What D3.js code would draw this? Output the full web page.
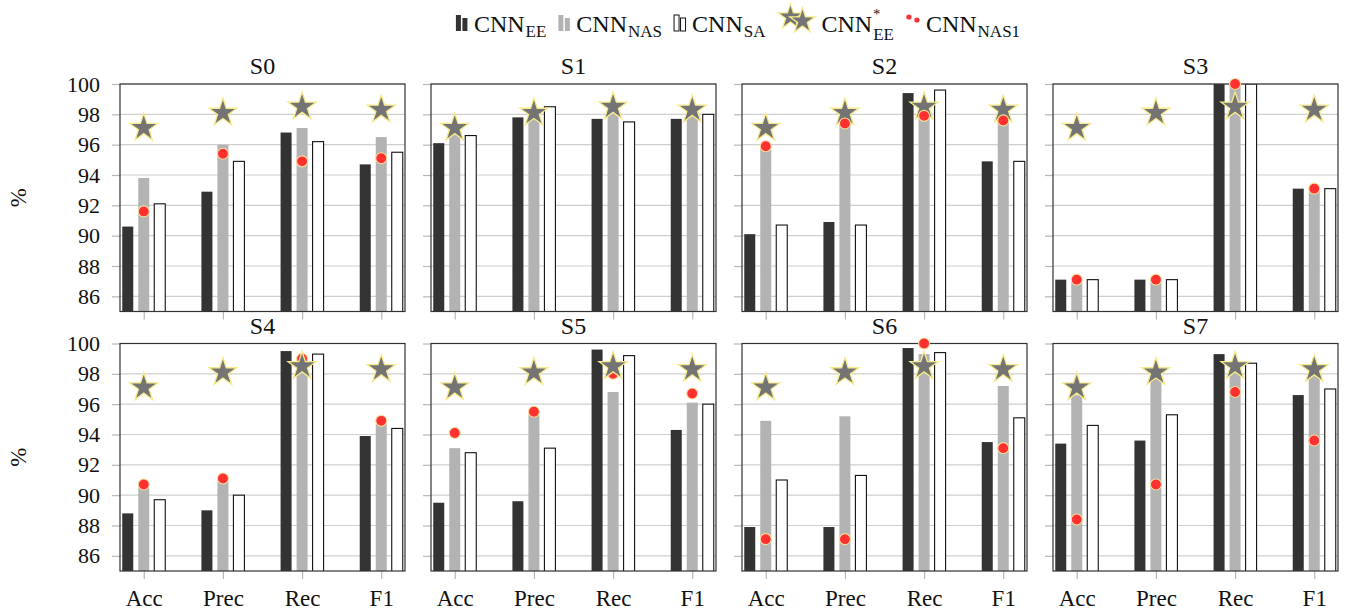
<!DOCTYPE html>
<html>
<head>
<meta charset="utf-8">
<script src="https://cdn.jsdelivr.net/npm/d3@7"></script>
<style>
  body { margin: 0; background: #fff; }
  svg { display: block; }
  svg text { font-family: "Liberation Serif", "Times New Roman", serif !important; }
</style>
</head>
<body>
<svg id="chart" width="1354" height="614"></svg>
<script>
// values
const metrics = ["Acc", "Prec", "Rec", "F1"];
const panelNames = ["S0", "S1", "S2", "S3", "S4", "S5", "S6", "S7"];
const yTicks = [86, 88, 90, 92, 94, 96, 98, 100];

const cnnEE = [
    [90.6, 92.9, 96.8, 94.7],
    [96.1, 97.8, 97.7, 97.7],
    [90.1, 90.9, 99.4, 94.9],
    [87.1, 87.1, 100.0, 93.1],
    [88.8, 89.0, 99.5, 93.9],
    [89.5, 89.6, 99.6, 94.3],
    [87.9, 87.9, 99.7, 93.5],
    [93.4, 93.6, 99.3, 96.6]
];
const cnnNAS = [
    [93.8, 96.0, 97.1, 96.5],
    [96.9, 98.0, 98.4, 98.1],
    [96.0, 97.6, 98.2, 97.8],
    [86.9, 86.9, 100.0, 93.0],
    [90.5, 90.9, 98.8, 94.7],
    [93.1, 95.3, 96.8, 96.1],
    [94.9, 95.2, 99.3, 97.2],
    [96.6, 97.9, 98.4, 98.0]
];
const cnnSA = [
    [92.1, 94.9, 96.2, 95.5],
    [96.6, 98.5, 97.5, 98.0],
    [90.7, 90.7, 99.6, 94.9],
    [87.1, 87.1, 100.0, 93.1],
    [89.7, 90.0, 99.3, 94.4],
    [92.8, 93.1, 99.2, 96.0],
    [91.0, 91.3, 99.4, 95.1],
    [94.6, 95.3, 98.7, 97.0]
];
const cnnNAS1 = [
    [91.6, 95.4, 94.9, 95.1],
    [null, null, null, null],
    [95.9, 97.4, 97.9, 97.6],
    [87.1, 87.1, 100.0, 93.1],
    [90.7, 91.1, 99.0, 94.9],
    [94.1, 95.5, 98.0, 96.7],
    [87.1, 87.1, 100.0, 93.1],
    [88.4, 90.7, 96.8, 93.6]
];
// the starred reference is the same in every panel
const cnnEEstar = [97.1, 98.1, 98.5, 98.3];

const barSeries = [
    {key: "ee", data: cnnEE, fill: "#333333", stroke: "none"},
    {key: "nas", data: cnnNAS, fill: "#b3b3b3", stroke: "none"},
    {key: "sa", data: cnnSA, fill: "#ffffff", stroke: "#111"}
];

const svg = d3.select("#chart");

const panelW = 285;
const panelH = 227.5;
const colX = [120, 431, 742, 1053];
const rowY = [84, 343.5];
const barW = 11;

const starColor = "#747474";
const starStroke = "#f6ea8c";
const redColor = "#ff3030";
const redStroke = "#f3df9c";
const gridColor = "#cfcfcf";
const tickColor = "#b8b8b8";

const x = d3.scalePoint(metrics, [0, panelW]).padding(0.3);
const inner = d3.scalePoint(barSeries.map(s => s.key), [-16, 16]);
const y = d3.scaleLinear([85, 100], [panelH, 0]);

const star = d3.symbol(d3.symbolStar, 245);
const starSmall = d3.symbol(d3.symbolStar, 200);

// panels where the stars cover the red dots
const starOnTop = [false, false, false, false, true, true, false, false];

panelNames.forEach(function (name, p) {
    const col = p % 4, row = Math.floor(p / 4);
    const g = svg.append("g")
        .attr("transform", `translate(${colX[col]},${rowY[row]})`);

    // grid
    g.append("g").selectAll("line")
        .data(yTicks)
        .join("line")
        .attr("x1", 0).attr("x2", panelW)
        .attr("y1", d => y(d)).attr("y2", d => y(d))
        .attr("stroke", gridColor)
        .attr("stroke-width", 1.2);

    // y axis ticks (labels only on first column)
    const yAxis = d3.axisLeft(y).tickValues(yTicks).tickSize(8).tickPadding(12);
    const ya = g.append("g").call(yAxis);
    ya.select(".domain").remove();
    ya.selectAll(".tick line").attr("stroke", tickColor).attr("stroke-width", 1.2);
    ya.selectAll(".tick text")
        .attr("font-size", 22)
        .attr("fill", "#111")
        .style("display", col === 0 ? null : "none");

    // x axis ticks (labels only on bottom row)
    const xAxis = d3.axisBottom(x).tickSize(8).tickPadding(11);
    const xa = g.append("g").attr("transform", `translate(0,${panelH})`).call(xAxis);
    xa.select(".domain").remove();
    xa.selectAll(".tick line").attr("stroke", tickColor).attr("stroke-width", 1.2);
    xa.selectAll(".tick text")
        .attr("font-size", 23)
        .attr("fill", "#111")
        .style("display", row === 1 ? null : "none");

    // bars
    const clipId = "clip" + p;
    g.append("clipPath").attr("id", clipId)
        .append("rect").attr("width", panelW).attr("height", panelH);
    const bars = g.append("g").attr("clip-path", `url(#${clipId})`);
    barSeries.forEach(function (s) {
        bars.append("g").selectAll("rect")
            .data(s.data[p])
            .join("rect")
            .attr("x", (d, i) => x(metrics[i]) + inner(s.key) - barW / 2)
            .attr("width", barW)
            .attr("y", d => y(Math.min(d, 100)))
            .attr("height", d => panelH - y(Math.min(d, 100)) + 2)
            .attr("fill", s.fill)
            .attr("stroke", s.stroke)
            .attr("stroke-width", s.stroke === "none" ? 0 : 1.1);
    });

    // frame
    g.append("rect")
        .attr("width", panelW).attr("height", panelH)
        .attr("fill", "none")
        .attr("stroke", "#333")
        .attr("stroke-width", 1.2);

    const drawStars = function () {
        g.append("g").selectAll("path")
            .data(cnnEEstar)
            .join("path")
            .attr("d", star)
            .attr("transform", (d, i) => `translate(${x(metrics[i])},${y(d)})`)
            .attr("fill", starColor)
            .attr("stroke", starStroke)
            .attr("stroke-width", 1.3);
    };
    const drawDots = function () {
        g.append("g").selectAll("circle")
            .data(cnnNAS1[p].map((v, i) => ({v: v, m: metrics[i]})).filter(d => d.v !== null))
            .join("circle")
            .attr("cx", d => x(d.m))
            .attr("cy", d => y(d.v))
            .attr("r", 5.5)
            .attr("fill", redColor)
            .attr("stroke", redStroke)
            .attr("stroke-width", 1.1);
    };
    if (starOnTop[p]) { drawDots(); drawStars(); } else { drawStars(); drawDots(); }

    // title
    g.append("text")
        .attr("x", panelW / 2)
        .attr("y", -10)
        .attr("text-anchor", "middle")
        .attr("font-size", 24)
        .attr("fill", "#111")
        .text(name);

    if (col === 0) {
        g.append("text")
            .attr("transform", `translate(${18 - colX[0]},${panelH / 2}) rotate(-90)`)
            .attr("text-anchor", "middle")
            .attr("dominant-baseline", "central")
            .attr("font-size", 23)
            .attr("fill", "#111")
            .text("%");
    }
});

// legend
const legendItems = [
    {type: "bar", fill: "#333333", stroke: "none", sub: "EE"},
    {type: "bar", fill: "#b3b3b3", stroke: "none", sub: "NAS"},
    {type: "bar", fill: "#ffffff", stroke: "#111", sub: "SA"},
    {type: "star", sub: "EE", sup: "*"},
    {type: "dot", sub: "NAS1"}
];

const legend = svg.append("g");
const baseY = 32;
let cx = 0;
legendItems.forEach(function (item) {
    const it = legend.append("g").attr("transform", `translate(${cx},0)`);
    let iw;
    if (item.type === "bar") {
        it.append("rect").attr("x", 0).attr("y", 15).attr("width", 5).attr("height", 16)
            .attr("fill", item.fill).attr("stroke", item.stroke).attr("stroke-width", 1);
        it.append("rect").attr("x", 6.5).attr("y", 18).attr("width", 5).attr("height", 13)
            .attr("fill", item.fill).attr("stroke", item.stroke).attr("stroke-width", 1);
        iw = 12;
    } else if (item.type === "star") {
        it.append("path").attr("d", starSmall).attr("transform", "translate(13,17)")
            .attr("fill", starColor).attr("stroke", starStroke).attr("stroke-width", 1.3);
        it.append("path").attr("d", starSmall).attr("transform", "translate(25,21)")
            .attr("fill", starColor).attr("stroke", starStroke).attr("stroke-width", 1.3);
        iw = 38;
    } else {
        it.append("circle").attr("cx", 3).attr("cy", 17).attr("r", 2.6).attr("fill", redColor);
        it.append("circle").attr("cx", 11).attr("cy", 20).attr("r", 2.6).attr("fill", redColor);
        iw = 14;
    }
    const tx = iw + 6;
    const t = it.append("text").attr("x", tx).attr("y", baseY)
        .attr("font-size", 24).attr("fill", "#111");
    t.append("tspan").text("CNN");
    const tw = t.node().getComputedTextLength();
    let sw;
    if (item.sup) {
        t.append("tspan").attr("x", tx + tw + 1).attr("dy", -13)
            .attr("font-size", 14).text(item.sup);
        const sub = t.append("tspan").attr("x", tx + tw + 1).attr("dy", 21)
            .attr("font-size", 17).text(item.sub);
        sw = sub.node().getComputedTextLength();
    } else {
        const sub = t.append("tspan").attr("dx", 1).attr("dy", 5)
            .attr("font-size", 17).text(item.sub);
        sw = sub.node().getComputedTextLength();
    }
    cx += tx + tw + 1 + sw + 12;
});
const legendW = cx - 12;
legend.attr("transform", `translate(${738 - legendW / 2},0)`);
</script>
</body>
</html>
